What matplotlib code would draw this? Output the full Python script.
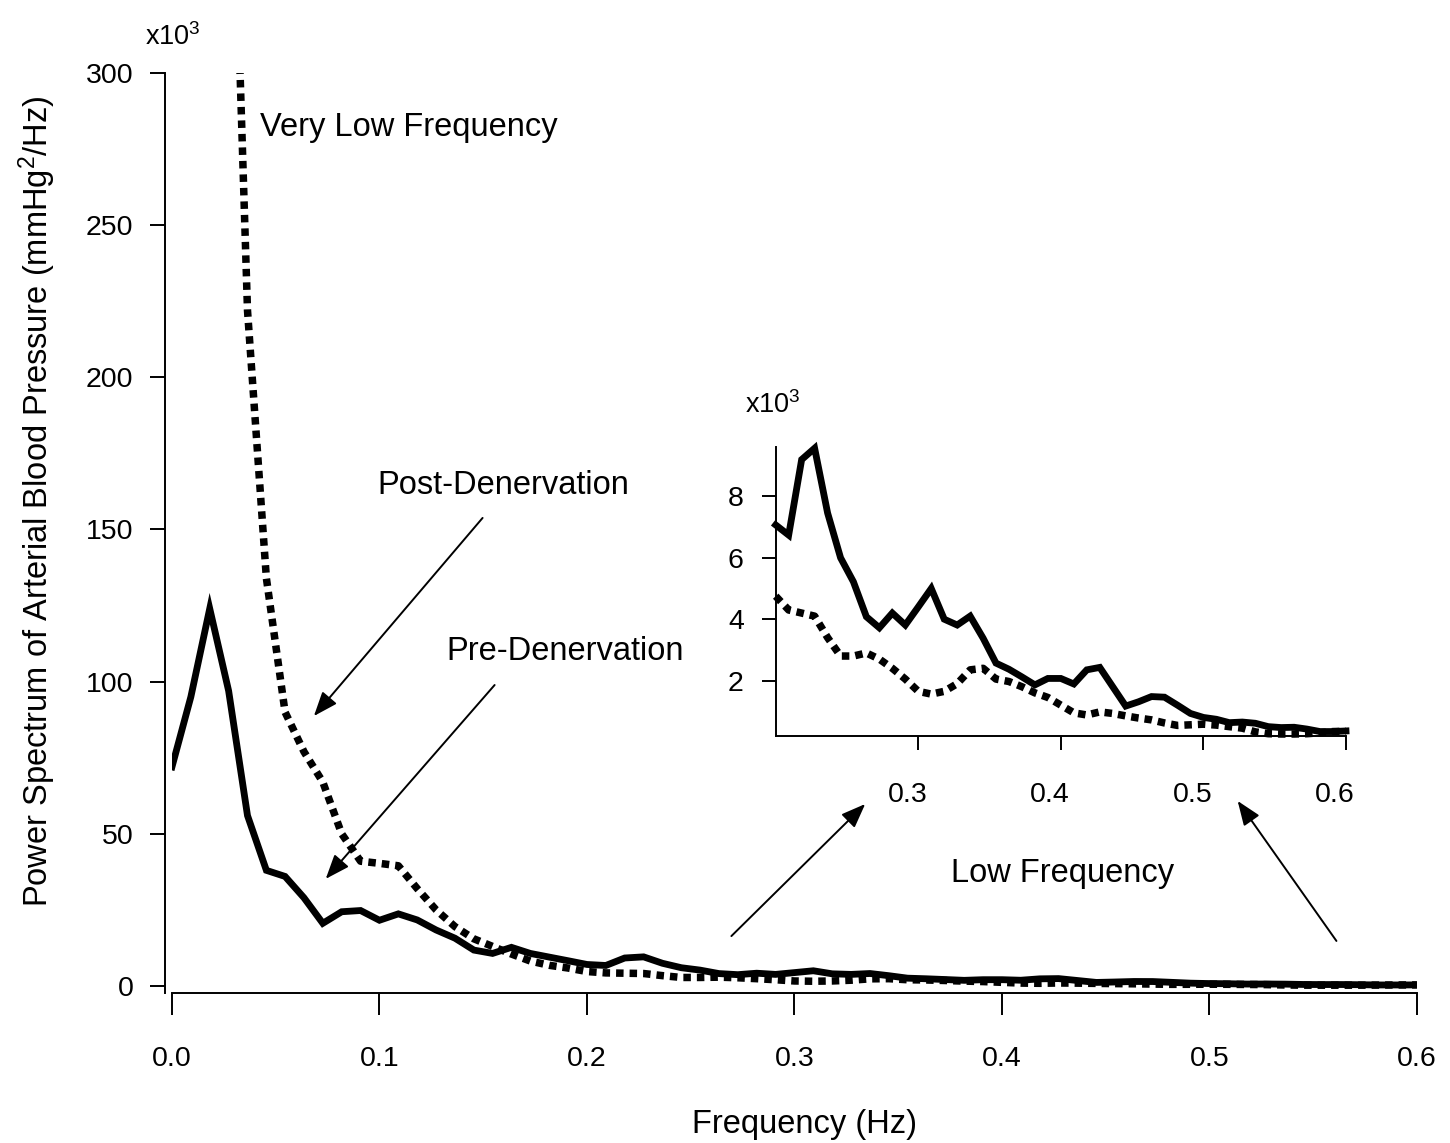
import numpy as np
import matplotlib
matplotlib.use('Agg')
import matplotlib.pyplot as plt
from matplotlib.transforms import ScaledTranslation

plt.rcParams['font.family'] = ['Liberation Sans', 'DejaVu Sans']
plt.rcParams['mathtext.fontset'] = 'custom'
plt.rcParams['mathtext.rm'] = 'Liberation Sans'
plt.rcParams['mathtext.it'] = 'Liberation Sans:italic'

# ---------------- data ----------------
freq_hz = [0.0, 0.0091, 0.0182, 0.0273, 0.0364, 0.0455, 0.0545, 0.0636, 0.0727, 0.0818,
           0.0909, 0.1, 0.1091, 0.1182, 0.1273, 0.1364, 0.1455, 0.1545, 0.1636, 0.1727,
           0.1818, 0.1909, 0.2, 0.2091, 0.2182, 0.2273, 0.2364, 0.2455, 0.2545, 0.2636,
           0.2727, 0.2818, 0.2909, 0.3, 0.3091, 0.3182, 0.3273, 0.3364, 0.3455, 0.3545,
           0.3636, 0.3727, 0.3818, 0.3909, 0.4, 0.4091, 0.4182, 0.4273, 0.4364, 0.4455,
           0.4545, 0.4636, 0.4727, 0.4818, 0.4909, 0.5, 0.5091, 0.5182, 0.5273, 0.5364,
           0.5455, 0.5545, 0.5636, 0.5727, 0.5818, 0.5909, 0.6]

# Pre-denervation (solid), x10^3 mmHg^2/Hz
pre_power = [72, 95, 124, 97, 56, 38, 36, 29, 20.6, 24.4,
             24.8, 21.6, 23.7, 21.7, 18.4, 15.7, 11.8, 10.7, 12.7, 10.7,
             9.5, 8.3, 7.07, 6.74, 9.2, 9.57, 7.46, 6.0, 5.22, 4.08,
             3.72, 4.2, 3.81, 4.4, 5.0, 4.0, 3.81, 4.1, 3.38, 2.57,
             2.37, 2.12, 1.86, 2.07, 2.07, 1.89, 2.35, 2.43, 1.8, 1.17,
             1.31, 1.48, 1.46, 1.2, 0.93, 0.8, 0.74, 0.63, 0.65, 0.61,
             0.5, 0.47, 0.48, 0.42, 0.34, 0.34, 0.36]

# Post-denervation (dotted), x10^3 mmHg^2/Hz (first bins are off the chart)
post_power = [np.nan, np.nan, np.nan, 420, 222, 134, 90, 77, 67, 50,
              41, 40.3, 39.5, 32, 25, 19.5, 15.5, 13, 10.5, 8.2,
              6.8, 5.9, 4.75, 4.3, 4.2, 4.1, 3.4, 2.8, 2.8, 2.9,
              2.7, 2.4, 2.05, 1.65, 1.56, 1.65, 1.9, 2.35, 2.4, 2.05,
              1.97, 1.8, 1.6, 1.45, 1.2, 0.95, 0.88, 0.98, 0.93, 0.85,
              0.78, 0.72, 0.62, 0.54, 0.56, 0.58, 0.55, 0.5, 0.45, 0.33,
              0.27, 0.26, 0.26, 0.27, 0.3, 0.34, 0.35]

main_xticks = [0.0, 0.1, 0.2, 0.3, 0.4, 0.5, 0.6]
main_xticklabels = ['0.0', '0.1', '0.2', '0.3', '0.4', '0.5', '0.6']
main_yticks = [0, 50, 100, 150, 200, 250, 300]
inset_start = 22  # first bin at 0.2 Hz
inset_xticks = [0.3, 0.4, 0.5, 0.6]
inset_xticklabels = ['0.3', '0.4', '0.5', '0.6']
inset_yticks = [2, 4, 6, 8]

# ---------------- figure ----------------
W, H, DPI = 1450, 1143, 100
fig = plt.figure(figsize=(W / DPI, H / DPI), dpi=DPI)

TICK_FS = 20.5
LAB_FS = 23.5
SOLID_LW = 4.9
DOT_LW = 5.4
DOT_STYLE = (0, (1.0, 0.8))

ax = fig.add_axes([0.1186, 0.13417, 0.8586, 0.80196])
ax.plot(freq_hz, pre_power, color='black', lw=SOLID_LW, solid_joinstyle='miter')
ax.plot(freq_hz, post_power, color='black', lw=DOT_LW, linestyle=DOT_STYLE,
        dash_capstyle='butt')
ax.set_xlim(0, 0.6)
ax.set_ylim(-1.2, 300)
for s in ['top', 'right']:
    ax.spines[s].set_visible(False)
for s in ['left', 'bottom']:
    ax.spines[s].set_linewidth(1.4)
ax.spines['left'].set_position(('outward', 5))
ax.spines['bottom'].set_position(('outward', 2.4))
ax.spines['left'].set_bounds(-2.3, 300)
ax.set_xticks(main_xticks)
ax.set_xticklabels(main_xticklabels)
ax.set_yticks(main_yticks)
ax.tick_params(axis='y', direction='out', length=10.8, width=1.4, pad=12, labelsize=TICK_FS)
ax.tick_params(axis='x', direction='out', length=16, width=1.4, pad=22, labelsize=TICK_FS)

ax.set_xlabel('Frequency (Hz)', fontsize=LAB_FS, va='center')
ax.xaxis.set_label_coords(0.5084, -0.1475)
ax.set_ylabel('Power Spectrum of Arterial Blood Pressure (mmHg$^2$/Hz)', fontsize=LAB_FS, va='center')
ax.yaxis.set_label_coords(-0.1084, 0.533)

fig.text(145 / W, 1 - 45 / H, 'x10$^3$', fontsize=19.5, ha='left', va='baseline')

ax.text(0.0424, 282, 'Very Low Frequency', fontsize=LAB_FS, ha='left', va='center')
ax.text(0.0992, 164.6, 'Post-Denervation', fontsize=LAB_FS, ha='left', va='center')
ax.text(0.1324, 109.8, 'Pre-Denervation', fontsize=LAB_FS, ha='left', va='center')
ax.text(0.3755, 37.1, 'Low Frequency', fontsize=LAB_FS, ha='left', va='center')

arrow_kw = dict(arrowstyle='-|>,head_length=0.62,head_width=0.24', mutation_scale=24,
                lw=1.4, color='black', shrinkA=0, shrinkB=0)
for tail, head in [((0.1497, 153.8), (0.0684, 88.7)),
                   ((0.1555, 98.9), (0.0741, 35.2)),
                   ((0.2696, 16.4), (0.3341, 59.8)),
                   ((0.5612, 14.8), (0.5136, 60.8))]:
    ax.annotate('', xy=head, xytext=tail, arrowprops=arrow_kw, annotation_clip=False)

# ---------------- inset ----------------
ax2 = fig.add_axes([0.53497, 0.35621, 0.3933, 0.25245])
ax2.patch.set_alpha(0)
ax2.plot(freq_hz[inset_start:], pre_power[inset_start:], color='black', lw=SOLID_LW,
         solid_joinstyle='miter', clip_on=False)
ax2.plot(freq_hz[inset_start:], post_power[inset_start:], color='black', lw=DOT_LW,
         linestyle=DOT_STYLE, dash_capstyle='butt', clip_on=False)
ax2.set_xlim(0.2, 0.6)
ax2.set_ylim(0.2, 9.6)
for s in ['top', 'right']:
    ax2.spines[s].set_visible(False)
for s in ['left', 'bottom']:
    ax2.spines[s].set_linewidth(1.4)
ax2.set_xticks(inset_xticks)
ax2.set_xticklabels(inset_xticklabels)
ax2.set_yticks(inset_yticks)
ax2.tick_params(axis='y', direction='out', length=10, width=1.4, pad=13, labelsize=TICK_FS)
ax2.tick_params(axis='x', direction='out', length=10, width=1.4, pad=23, labelsize=TICK_FS)
shift = ScaledTranslation(-11 / DPI, 0, fig.dpi_scale_trans)
for lbl in ax2.get_xticklabels():
    lbl.set_transform(lbl.get_transform() + shift)

fig.text(745 / W, 1 - 413 / H, 'x10$^3$', fontsize=19.5, ha='left', va='baseline')

fig.savefig('out.png', dpi=DPI)
